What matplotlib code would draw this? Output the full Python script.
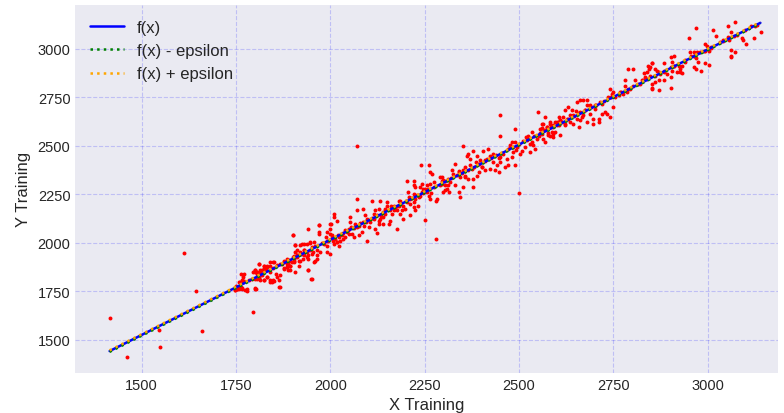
#svr style fit of training data with epsilon tube
import numpy as np
import matplotlib.pyplot as plt
plt.style.use('seaborn-v0_8-darkgrid')
plt.rcParams['font.family'] = ['Liberation Sans', 'DejaVu Sans']

#fitted line f(x) end points
line_x = [1415, 3140]
line_y = [1442, 3134]
epsilon = 4

#training points (x, y)
x_train = [
    1415, 1460, 1545, 1548, 1611, 1644, 1659, 1795, 1748, 1752, 1755, 1758, 1762, 1766,
    1762, 1769, 1759, 1769, 1802, 1779,
    1801, 1800, 1811, 1814, 1823, 1823, 1832, 1839, 1841, 1850, 1855, 1863, 1867, 1850,
    1841, 1807, 1814, 1823, 1832, 1811, 1801, 1876, 1885, 1894, 1903, 1903, 1911, 1920,
    1900, 1907, 1911, 1916, 1920, 1927, 1940, 1949, 1956, 1947, 1929, 1938, 1920, 1929,
    1942, 1951, 1964, 1971, 1971, 1956, 1964, 1907, 1938, 1885, 1894, 1872,
    2011, 2001, 2000, 1991, 2000, 2004, 1989, 1995, 2008, 2017, 2022, 1982, 1991, 1969,
    1971, 1942, 1901, 1907, 1925, 1947, 1951, 1938, 1929, 1920, 1907, 1911, 1902, 1904,
    1898, 1894, 1885, 1889, 1876, 1867, 1849, 1841, 1832, 1825, 1814, 1805, 1796, 1805,
    1818, 1832, 1839, 1849, 1823, 1810, 1801, 1770, 1765, 1761, 1770, 1779, 1774, 1765,
    1757, 1750, 1752, 1748, 1801, 1845, 1865, 1867, 1858, 1918, 1940, 1951, 1960, 1964,
    1940, 1929, 1955, 1973, 1991, 2000, 1810, 1823, 1801, 1818, 1876, 1889, 1885, 1892,
    1913,
    2071, 2240, 2261, 2265, 2270, 2292, 2296, 2274, 2265, 2256, 2247, 2243, 2256, 2261,
    2265, 2283, 2281, 2300, 2305, 2314, 2203, 2221, 2221, 2225, 2237, 2243, 2205, 2221,
    2234, 2212, 2225, 2239, 2232, 2221, 2212, 2203, 2194, 2199, 2190, 2186, 2181, 2181,
    2186, 2177, 2172, 2168, 2163, 2150, 2150, 2146, 2146, 2141, 2133, 2128, 2128, 2119,
    2133, 2110, 2088, 2093, 2097, 2088, 2106, 2102, 2075, 2071, 2071, 2071, 2053, 2053,
    2055, 2049, 2044, 2040, 2031, 2035, 2027, 2018, 2013, 2009, 2022, 2040, 2057, 2062,
    2075, 2084, 2097, 2124, 2119, 2177, 2155, 2194, 2212, 2225, 2250, 2281, 2000, 2009,
    2018, 2115, 2141, 2159, 2128,
    2450, 2550, 2450, 2490, 2351, 2501, 2605, 2600, 2591, 2583, 2574, 2565, 2556, 2561,
    2552, 2547, 2565, 2569, 2583, 2591, 2596, 2534, 2525, 2521, 2530, 2538, 2543, 2530,
    2516, 2508, 2503, 2494, 2490, 2481, 2477, 2485, 2481, 2468, 2472, 2490, 2463, 2459,
    2450, 2450, 2441, 2432, 2424, 2419, 2415, 2406, 2410, 2401, 2397, 2393, 2393, 2388,
    2379, 2379, 2375, 2371, 2371, 2362, 2357, 2353, 2344, 2340, 2331, 2326, 2318, 2313,
    2304, 2295, 2295, 2309, 2340, 2344, 2353, 2331, 2424, 2437, 2446, 2410, 2357, 2366,
    2322, 2388, 2379, 2366,
    2790, 2803, 2852, 2839, 2848, 2861, 2870, 2870, 2852, 2852, 2870, 2830, 2821, 2808,
    2803, 2795, 2781, 2781, 2786, 2777, 2768, 2764, 2750, 2755, 2742, 2746, 2737, 2750,
    2742, 2733, 2719, 2715, 2702, 2711, 2697, 2702, 2689, 2680, 2671, 2662, 2653, 2680,
    2689, 2675, 2671, 2662, 2662, 2653, 2644, 2640, 2631, 2636, 2627, 2622, 2618, 2609,
    2605, 2596, 2591, 2583, 2574, 2569, 2565, 2560, 2560, 2591, 2609, 2578, 2587, 2644,
    2658, 2680, 2697, 2711, 2728, 2719, 2622, 2636,
    2970, 3015, 3074, 3053, 3114, 3127, 3142, 3122, 3103, 3092, 3094, 3078, 3062, 3053,
    3056, 3041, 3032, 3023, 3074, 3062, 3062, 3062, 3008, 2999, 2994, 3003, 2992, 2994,
    3003, 2981, 2972, 2963, 2953, 2955, 2963, 2970, 2974, 2963, 2983, 2970, 2952, 2941,
    2932, 2928, 2924, 2910, 2902, 2906, 2902, 2910, 2906, 2919, 2928, 2932, 2902, 2893,
    2884, 2884, 2884, 2875, 2866, 2853, 2844, 2841, 2831, 2833, 2848, 2862, 2853, 2902,
    2826,
]
y_train = [
    1612, 1412, 1550, 1462, 1950, 1751, 1545, 1646, 1755, 1763, 1770, 1760, 1775, 1765,
    1840, 1823, 1800, 1800, 1763, 1754,
    1858, 1849, 1892, 1849, 1883, 1866, 1883, 1849, 1901, 1901, 1841, 1806, 1772, 1801,
    1806, 1815, 1810, 1811, 1823, 1822, 1763, 1866, 1875, 1883, 1901, 1918, 1935, 1952,
    2042, 1987, 1961, 1909, 1904, 1918, 1858, 1815, 2004, 2004, 1992, 1995, 1987, 1961,
    1935, 1944, 1961, 2047, 2090, 1901, 1918, 1849, 1926, 1892, 1858, 1892,
    2150, 2098, 2072, 2055, 2047, 2038, 2029, 2012, 2012, 2004, 1986, 1995, 1986, 2055,
    2090, 2069, 2041, 1990, 1995, 2000, 1978, 1952, 1961, 1944, 1952, 1935, 1926, 1909,
    1901, 1883, 1875, 1858, 1901, 1892, 1901, 1883, 1875, 1863, 1858, 1852, 1849, 1840,
    1832, 1823, 1798, 1806, 1806, 1818, 1815, 1840, 1806, 1798, 1801, 1763, 1755, 1763,
    1772, 1780, 1763, 1755, 1767, 1798, 1772, 1832, 1823, 1883, 1858, 1815, 1909, 1935,
    1918, 1935, 1952, 1952, 1952, 1944, 1892, 1883, 1858, 1858, 1870, 1892, 1918, 1909,
    1926,
    2498, 2399, 2399, 2364, 2356, 2338, 2321, 2313, 2304, 2296, 2278, 2261, 2261, 2244,
    2227, 2227, 2218, 2261, 2270, 2261, 2321, 2321, 2296, 2287, 2287, 2304, 2261, 2253,
    2235, 2227, 2227, 2244, 2192, 2184, 2201, 2210, 2192, 2175, 2167, 2149, 2192, 2218,
    2218, 2192, 2175, 2167, 2149, 2210, 2192, 2175, 2149, 2132, 2124, 2115, 2175, 2167,
    2218, 2218, 2175, 2141, 2124, 2110, 2107, 2081, 2089, 2081, 2227, 2167, 2132, 2107,
    2081, 2072, 2055, 2064, 2038, 2021, 2012, 2003, 2021, 1995, 2029, 2029, 2046, 2029,
    2038, 2055, 2007, 2052, 2072, 2072, 2098, 2124, 2141, 2167, 2119, 2021, 2098, 2132,
    2115, 2124, 2098, 2115, 2098,
    2660, 2677, 2553, 2588, 2499, 2258, 2648, 2622, 2605, 2622, 2596, 2614, 2588, 2571,
    2553, 2536, 2536, 2519, 2553, 2545, 2571, 2571, 2553, 2528, 2510, 2502, 2485, 2468,
    2493, 2476, 2459, 2493, 2519, 2519, 2493, 2468, 2442, 2433, 2399, 2399, 2390, 2459,
    2442, 2416, 2399, 2416, 2450, 2485, 2433, 2476, 2425, 2390, 2425, 2407, 2364, 2347,
    2330, 2287, 2382, 2399, 2433, 2450, 2390, 2373, 2339, 2364, 2407, 2356, 2313, 2330,
    2296, 2304, 2339, 2279, 2261, 2236, 2287, 2296, 2382, 2373, 2364, 2373, 2339, 2330,
    2373, 2450, 2476, 2459,
    2897, 2897, 2928, 2880, 2906, 2897, 2880, 2837, 2820, 2794, 2786, 2837, 2820, 2837,
    2811, 2794, 2837, 2811, 2777, 2769, 2777, 2760, 2777, 2751, 2794, 2769, 2751, 2700,
    2648, 2665, 2665, 2726, 2708, 2640, 2640, 2691, 2708, 2734, 2734, 2734, 2726, 2708,
    2665, 2683, 2657, 2674, 2631, 2640, 2657, 2683, 2700, 2657, 2640, 2683, 2648, 2631,
    2605, 2622, 2597, 2614, 2597, 2648, 2580, 2614, 2562, 2562, 2554, 2554, 2571, 2614,
    2597, 2622, 2614, 2622, 2674, 2717, 2614, 2622,
    3106, 3096, 3137, 3117, 3117, 3120, 3086, 3055, 3027, 3055, 3043, 3072, 3086, 3062,
    3048, 3048, 3034, 3065, 2986, 2996, 2965, 2957, 3003, 3017, 3026, 2991, 2991, 2928,
    2917, 2983, 2986, 2986, 2986, 2965, 2965, 2952, 2931, 2905, 2888, 2897, 3058, 2931,
    2914, 2897, 2914, 2965, 2957, 2931, 2905, 2914, 2888, 2880, 2880, 2876, 2854, 2871,
    2928, 2880, 2840, 2871, 2888, 2928, 2897, 2911, 2876, 2854, 2862, 2831, 2797, 2797,
    2837,
]

#points packed tightly along the line (the dense red band)
x_band = [
    1785, 1792, 1815, 1830, 1848, 1860, 1878, 1890, 1905, 1925, 1945, 1960, 1978, 1990,
    2005, 2020, 2035, 2048, 2062, 2080, 2095, 2110, 2125, 2140, 2158, 2170, 2185, 2200,
    2215, 2230, 2245, 2260, 2275, 2290, 2305, 2320, 2335, 2350, 2365, 2380, 2395, 2410,
    2425, 2440, 2455, 2470, 2485, 2500, 2512, 2528, 2540, 2555, 2570, 2585, 2600, 2615,
    2630, 2645, 2660, 2675, 2690, 2705, 2725, 2745, 2770, 2790, 2815, 2840, 2860, 2885,
    2910, 2940, 2965, 2990, 3010, 3040, 3070, 3100, 3130,
    2050, 2065, 2090, 2115, 2135, 2160, 2178, 2208, 2222, 2252, 2268, 2298, 2312, 2342,
    2358, 2386, 2402, 2430, 2448, 2476, 2492, 2518, 2535, 2562, 2578, 2608, 2622, 2652,
    2668,
]
y_band = [
    1810, 1815, 1840, 1858, 1872, 1885, 1905, 1912, 1930, 1945, 1965, 1985, 2000, 2008,
    2025, 2040, 2052, 2068, 2078, 2100, 2110, 2130, 2142, 2157, 2170, 2190, 2200, 2215,
    2230, 2245, 2258, 2275, 2290, 2300, 2318, 2335, 2348, 2362, 2378, 2392, 2405, 2422,
    2438, 2452, 2465, 2482, 2495, 2510, 2525, 2538, 2550, 2565, 2580, 2595, 2608, 2625,
    2638, 2655, 2668, 2685, 2698, 2712, 2732, 2752, 2775, 2795, 2818, 2842, 2862, 2888,
    2912, 2940, 2965, 2990, 3010, 3038, 3068, 3097, 3125,
    2045, 2095, 2085, 2150, 2140, 2190, 2170, 2235, 2210, 2280, 2255, 2325, 2300, 2370,
    2345, 2415, 2390, 2458, 2435, 2505, 2478, 2548, 2520, 2590, 2565, 2635, 2605, 2680,
    2650,
]

fig, ax = plt.subplots(figsize=(7.84, 4.14), dpi=100)
fig.subplots_adjust(left=0.096, right=0.992, top=0.986, bottom=0.097)

ax.scatter(x_train + x_band, y_train + y_band, s=8, c='red', linewidths=0, zorder=2)
ax.plot(line_x, line_y, color='blue', lw=1.8, label='f(x)', zorder=3)
ax.plot(line_x, np.array(line_y) - epsilon, color='green', ls=':', lw=1.8,
        label='f(x) - epsilon', zorder=3)
ax.plot(line_x, np.array(line_y) + epsilon, color='orange', ls=':', lw=1.8,
        label='f(x) + epsilon', zorder=3)

ax.set_xlim(1324, 3186)
ax.set_ylim(1330, 3227)
ax.set_xticks([1500, 1750, 2000, 2250, 2500, 2750, 3000])
ax.set_yticks([1500, 1750, 2000, 2250, 2500, 2750, 3000])
ax.grid(True, color='blue', ls='--', lw=0.8, alpha=0.18)
ax.tick_params(labelsize=10.5)
ax.set_xlabel('X Training', fontsize=12, labelpad=4)
ax.set_ylabel('Y Training', fontsize=12, labelpad=5)
ax.legend(loc='upper left', fontsize=12, frameon=False)

plt.savefig('out.png')
